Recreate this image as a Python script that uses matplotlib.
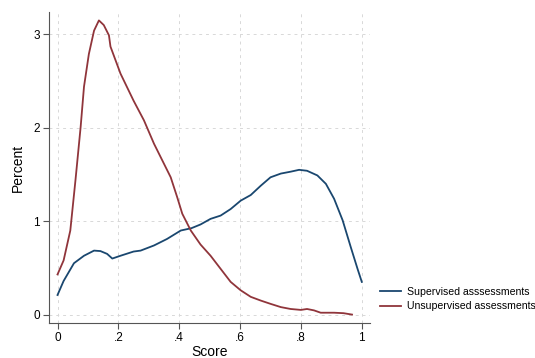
import matplotlib
matplotlib.use("Agg")
import matplotlib.pyplot as plt

plt.rcParams['font.family'] = ['Liberation Sans', 'DejaVu Sans']

# Supervised assessments (kernel density)
sup_x = [0.0, 0.02, 0.054, 0.087, 0.12, 0.141, 0.163, 0.18, 0.207, 0.25, 0.273,
         0.317, 0.36, 0.405, 0.44, 0.47, 0.503, 0.536, 0.569, 0.602, 0.635,
         0.668, 0.70, 0.734, 0.766, 0.794, 0.82, 0.854, 0.882, 0.909, 0.937,
         0.964, 0.986, 1.0]
sup_y = [0.21, 0.36, 0.55, 0.63, 0.685, 0.68, 0.65, 0.60, 0.63, 0.675, 0.685,
         0.74, 0.81, 0.90, 0.925, 0.965, 1.025, 1.06, 1.13, 1.22, 1.28,
         1.38, 1.47, 1.51, 1.53, 1.55, 1.54, 1.49, 1.40, 1.24, 1.01,
         0.72, 0.49, 0.35]

# Unsupervised assessments
uns_x = [0.0, 0.02, 0.042, 0.059, 0.076, 0.087, 0.103, 0.12, 0.136, 0.152,
         0.169, 0.174, 0.207, 0.25, 0.284, 0.317, 0.372, 0.393, 0.41, 0.438,
         0.47, 0.503, 0.536, 0.569, 0.602, 0.635, 0.668, 0.70, 0.734, 0.766,
         0.80, 0.82, 0.843, 0.865, 0.909, 0.94, 0.968]
uns_y = [0.43, 0.58, 0.90, 1.44, 2.01, 2.44, 2.79, 3.04, 3.15, 3.10,
         2.99, 2.87, 2.58, 2.29, 2.08, 1.83, 1.47, 1.26, 1.08, 0.90,
         0.75, 0.63, 0.49, 0.35, 0.26, 0.19, 0.15, 0.115, 0.08, 0.06,
         0.05, 0.06, 0.045, 0.02, 0.02, 0.015, 0.0]

xticks = [0, 0.2, 0.4, 0.6, 0.8, 1.0]
xticklabels = ['0', '.2', '.4', '.6', '.8', '1']
yticks = [0, 1, 2, 3]

fig = plt.figure(figsize=(5.35, 3.58), dpi=100)
ax = fig.add_axes([0.0916, 0.0978, 0.6, 0.8687])

ax.plot(sup_x, sup_y, color='#1a476f', lw=1.3, label='Supervised asssessments')
ax.plot(uns_x, uns_y, color='#90353b', lw=1.3, label='Unsupervised assessments')

ax.set_xlim(-0.028, 1.027)
ax.set_ylim(-0.09, 3.24)
ax.set_xticks(xticks)
ax.set_xticklabels(xticklabels)
ax.set_yticks(yticks)
ax.grid(True, color='#d8d8d8', linestyle=(0, (3, 4)), lw=0.7)
ax.set_axisbelow(True)

for s in ['top', 'right']:
    ax.spines[s].set_visible(False)
for s in ['left', 'bottom']:
    ax.spines[s].set_color('#555555')
    ax.spines[s].set_linewidth(0.8)
ax.tick_params(colors='#555555', labelcolor='black', labelsize=8.5, width=0.8,
               length=4, pad=2.5)

ax.set_xlabel('Score', fontsize=10, labelpad=1)
ax.set_ylabel('Percent', fontsize=10, labelpad=6)

fig.legend(loc='center left', bbox_to_anchor=(380 / 535, 1 - 299 / 358),
           frameon=False, fontsize=7.6, handlelength=2.0, handletextpad=0.6,
           borderpad=0, borderaxespad=0, labelspacing=0.45)

fig.savefig('out.png', dpi=100)
